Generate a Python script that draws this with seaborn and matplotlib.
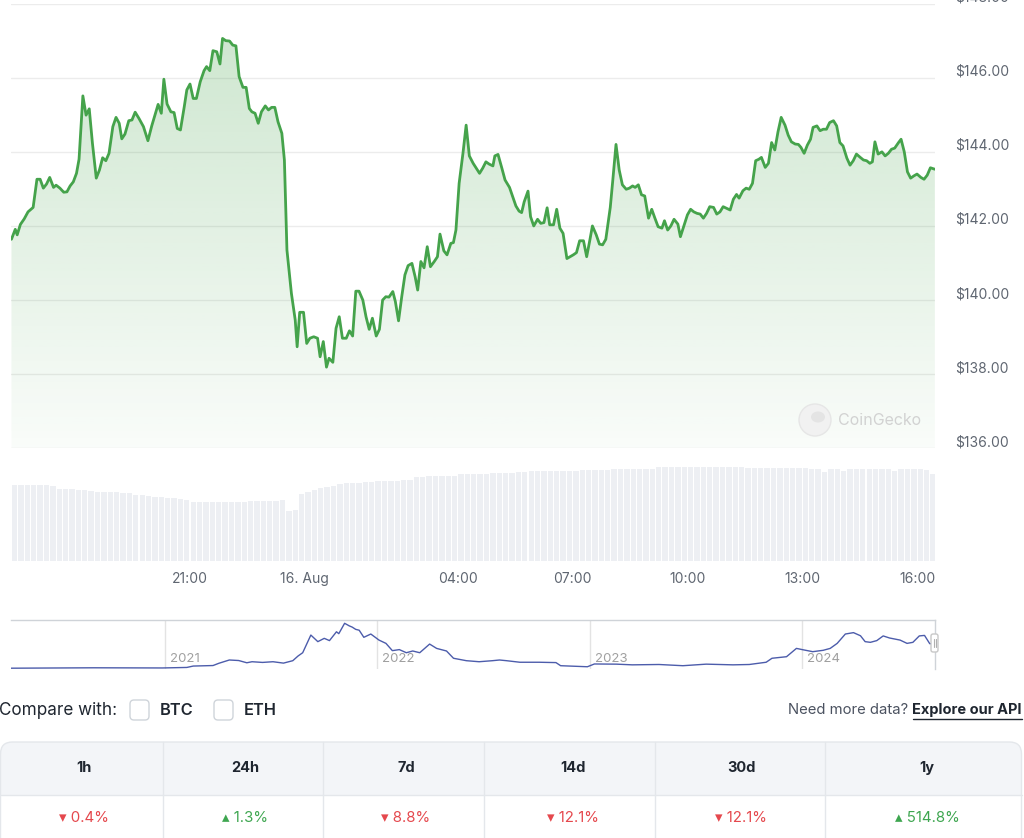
import numpy as np
import pandas as pd
import matplotlib
matplotlib.use("Agg")
import matplotlib.pyplot as plt
import matplotlib.dates as mdates
import matplotlib.transforms as mtransforms
import matplotlib.colors as mcolors
from matplotlib.patches import FancyBboxPatch, Rectangle, Circle, Ellipse
from matplotlib.lines import Line2D
import seaborn as sns

# ---------------- data ----------------
# price (USD), minutes after 2024-08-15 16:00
price_minutes = [20,26,29,34,40,46,54,60,65,70,75,80,86,90,96,102,107,112,117,122,126,132,137,142,147,153,158,163,168,173,179,184,189,193,198,204,209,214,220,227,234,240,245,250,255,259,264,270,275,280,285,291,295,300,305,310,316,322,326,331,336,342,347,351,356,362,367,372,377,383,388,393,
                 397,402,407,412,418,423,428,433,438,444,448,452,459,465,468,472,478,483,488,494,500,504,509,514,518,524,529,534,539,545,550,555,560,565,571,576,581,586,592,597,602,607,612,618,622,627,632,637,642,648,653,657,662,667,672,677,683,688,692,698,703,709,713,717,722,728,733,738,744,750,754,759,764,769,
                 775,778,783,789,794,801,806,811,816,820,824,830,834,839,845,850,855,860,864,870,875,880,885,891,896,901,906,911,917,922,927,931,937,942,947,952,959,963,968,973,978,984,989,994,998,1003,1008,1013,1019,1024,1029,1034,1040,1044,1049,1054,1059,1065,1069,1075,1080,1085,1090,1095,
                 1100,1105,1110,1115,1121,1126,1131,1136,1141,1147,1152,1157,1161,1167,1172,1177,1182,1187,1192,1196,1202,1207,1212,1217,1222,1227,1233,1238,1243,1249,1254,1258,1263,1268,1273,1277,1283,1288,1293,1298,1303,1309,1314,1319,1324,1330,1335,1340,1345,1351,1356,1361,1366,1370,1374,1379,1385,1390,1395,1400,1405,1411,1415,1420,1425,1430,1435,1440,1446,1451,1456,1461,1468]
price_usd = [141.64,141.91,141.76,142.04,142.19,142.38,142.50,143.26,143.26,143.02,143.13,143.31,143.04,143.10,143.02,142.91,142.92,143.08,143.19,143.42,143.80,145.51,144.99,145.16,144.23,143.29,143.51,143.84,143.76,143.96,144.68,144.93,144.77,144.35,144.48,144.84,144.86,145.07,144.90,144.68,144.30,144.70,144.99,145.28,145.04,145.96,145.29,145.08,145.06,144.63,144.59,145.22,145.67,145.83,145.44,145.44,145.89,146.19,146.30,146.19,146.73,146.70,146.37,147.06,147.00,146.99,146.88,146.86,146.03,145.74,145.74,145.17,
             145.08,145.04,144.77,145.08,145.24,145.13,145.20,145.20,144.81,144.50,143.78,141.35,140.18,139.46,138.74,139.67,139.67,138.83,138.97,139.01,138.97,138.47,138.88,138.19,138.43,138.32,139.24,139.55,138.97,138.97,139.17,139.03,140.24,140.24,140.00,139.55,139.21,139.51,139.03,139.21,140.00,140.09,140.08,140.23,139.96,139.44,140.09,140.68,140.93,140.99,140.63,140.27,141.04,140.87,141.44,140.90,141.04,141.17,141.78,141.33,141.22,141.53,141.55,141.89,143.15,143.96,144.72,143.89,143.69,143.53,143.42,143.56,143.73,143.67,
             143.62,143.89,143.93,143.56,143.24,143.04,142.79,142.54,142.40,142.36,142.65,142.94,142.25,142.00,142.18,142.07,142.09,142.49,142.03,142.03,142.45,141.94,141.80,141.12,141.17,141.22,141.28,141.60,141.60,141.17,141.62,142.00,141.76,141.51,141.49,141.64,142.50,143.24,144.20,143.51,143.11,142.99,143.02,143.08,143.04,143.11,142.84,142.81,142.21,142.45,142.21,141.98,141.94,142.14,141.89,142.00,142.18,142.05,141.71,142.03,142.30,142.45,142.38,142.34,
             142.32,142.21,142.34,142.52,142.50,142.32,142.38,142.52,142.48,142.43,142.72,142.85,142.75,142.95,143.02,142.99,143.15,143.76,143.80,143.85,143.58,143.69,144.25,144.05,144.54,144.93,144.72,144.45,144.27,144.21,144.20,144.12,143.96,144.18,144.34,144.66,144.70,144.57,144.61,144.61,144.79,144.84,144.70,144.25,144.16,143.83,143.64,143.76,143.94,143.85,143.78,143.76,143.69,143.73,144.27,143.94,144.00,143.89,143.96,144.07,144.10,144.25,144.34,144.00,143.46,143.29,143.35,143.40,143.31,143.26,143.37,143.57,143.53]

# volume (billion USD), one bar per 10 minutes from 16:25 on 15 Aug
volume_b = [2.55,2.55,2.56,2.54,2.55,2.53,2.52,
            2.42,2.41,2.40,2.39,2.38,
            2.33,2.32,2.31,2.30,2.30,2.29,2.28,
            2.22,2.20,2.18,2.16,2.14,2.12,2.10,2.07,2.05,
            1.98,1.98,1.97,1.98,1.98,1.99,1.98,1.98,1.99,2.00,2.00,2.01,2.02,2.02,2.03,
            1.66,1.70,
            2.26,2.30,2.38,2.44,2.48,2.52,
            2.58,2.60,2.61,2.62,2.63,
            2.66,2.67,2.68,2.68,2.69,2.70,2.71,
            2.80,2.82,2.83,2.84,2.85,2.85,2.86,
            2.90,2.91,2.92,2.92,2.93,2.94,2.94,2.95,2.95,
            2.98,2.99,3.00,3.00,3.01,3.01,3.02,3.02,3.03,3.03,3.04,3.04,
            3.05,3.06,3.06,3.07,3.07,3.08,3.08,3.08,3.09,3.09,
            3.15,3.15,3.16,3.16,3.16,3.16,3.16,3.16,3.16,3.15,3.15,3.15,3.14,3.14,3.13,
            3.11,3.11,3.10,3.11,3.10,3.10,3.11,3.10,3.10,3.09,
            3.08,2.98,3.08,3.07,3.02,3.07,3.08,3.08,3.07,3.08,3.08,3.07,3.02,3.08,3.08,3.07,3.08,3.06,2.93]

price_ticks = [136, 138, 140, 142, 144, 146, 148]
time_tick_labels = ["21:00", "16. Aug", "04:00", "07:00", "10:00", "13:00", "16:00"]
time_tick_stamps = ["2024-08-15 21:00", "2024-08-16 00:00", "2024-08-16 04:00", "2024-08-16 07:00",
                    "2024-08-16 10:00", "2024-08-16 13:00", "2024-08-16 16:00"]

# navigator: long-run price history
nav_dates = ["2020-04-12","2020-09-01","2020-12-28","2021-02-08","2021-02-19","2021-03-25","2021-04-04","2021-04-22","2021-05-08","2021-05-22","2021-05-31","2021-06-18","2021-07-06","2021-07-24","2021-08-09","2021-08-18","2021-08-26","2021-09-09","2021-09-21","2021-10-02","2021-10-11","2021-10-23","2021-10-27","2021-11-06","2021-11-14","2021-11-19","2021-11-25","2021-12-01","2021-12-09","2021-12-21",
             "2022-01-04","2022-01-16","2022-01-27","2022-02-08","2022-02-20","2022-03-03","2022-03-15","2022-04-01","2022-04-13","2022-04-30","2022-05-12","2022-06-03","2022-06-25","2022-07-18","2022-07-30","2022-08-11","2022-09-03","2022-10-06","2022-11-04","2022-11-12","2022-12-28",
             "2023-01-09","2023-02-16","2023-03-15","2023-04-30","2023-06-10","2023-07-20","2023-09-04","2023-10-02","2023-10-31","2023-11-10","2023-12-05","2023-12-22",
             "2024-01-01","2024-01-19","2024-02-06","2024-02-18","2024-03-01","2024-03-15","2024-03-29","2024-04-10","2024-04-18","2024-04-27","2024-05-08","2024-05-19","2024-05-30","2024-06-17","2024-06-29","2024-07-09","2024-07-20","2024-07-29","2024-08-07","2024-08-16"]
nav_prices = [0.6,3,2,5,13,16,29,48,45,32,38,34,38,30,44,71,90,192,154,173,160,211,200,260,245,238,225,220,179,198,
              163,144,102,108,90,100,90,140,115,100,58,44,38,44,48,44,35,35,33,15,9,
              25,24,20,22,15,24,20,22,35,58,67,115,
              108,96,104,115,144,198,206,188,154,150,160,187,175,163,144,150,187,190,142,143]
nav_years = [2021, 2022, 2023, 2024]

periods = ["1h", "24h", "7d", "14d", "30d", "1y"]
changes = [-0.4, 1.3, -8.8, -12.1, -12.1, 514.8]
compare_coins = ["BTC", "ETH"]

# ---------------- style ----------------
sns.set_theme(style="white")
plt.rcParams["font.family"] = ["Inter", "DejaVu Sans"]

LINE = "#45a34b"
GRID = "#ececec"
LABEL = "#5f6671"
DARK = "#1f2630"
RED = "#e5484d"
GREEN = "#3ea650"

W, H = 1024, 838
fig = plt.figure(figsize=(W / 100, H / 100), dpi=100)
fig.patch.set_facecolor("white")
PX = mtransforms.Affine2D().scale(1 / W, -1 / H).translate(0, 1) + fig.transFigure


def px_axes(x0, y0, x1, y1):
    a = fig.add_axes([x0 / W, 1 - y1 / H, (x1 - x0) / W, (y1 - y0) / H])
    a.set_facecolor("none")
    for s in a.spines.values():
        s.set_visible(False)
    return a


t0 = pd.Timestamp("2024-08-15 16:00")
df = pd.DataFrame({"time": t0 + pd.to_timedelta(price_minutes, unit="min"), "price": price_usd})
xmin = t0 + pd.Timedelta(minutes=19.3)
xmax = t0 + pd.Timedelta(minutes=1468.2)

# ---------------- main price chart ----------------
ax = px_axes(11, 3.6, 935, 448.3)
for v in price_ticks:
    ax.axhline(v, color=GRID, lw=1.0, zorder=0)
poly = ax.fill_between(df["time"], df["price"], 136, color="none", lw=0)
xn = mdates.date2num([xmin, xmax])
grad = np.zeros((256, 1, 4))
grad[..., :3] = mcolors.to_rgb(LINE)
grad[..., 3] = np.linspace(0.28, 0.03, 256)[:, None]
im = ax.imshow(grad, extent=[xn[0], xn[1], 136, 148], aspect="auto", origin="upper", zorder=1,
               interpolation="bilinear")
im.set_clip_path(poly.get_paths()[0], transform=ax.transData)
sns.lineplot(data=df, x="time", y="price", ax=ax, color=LINE, lw=2.0, zorder=3)
ax.set_xlim(xmin, xmax)
ax.set_ylim(136, 148)
ax.set_xticks([]); ax.set_yticks([])
ax.set_xlabel(""); ax.set_ylabel("")

ylab_tr = mtransforms.blended_transform_factory(fig.transFigure, ax.transData) + \
    mtransforms.ScaledTranslation(0, 6 / 100, fig.dpi_scale_trans)
for v in price_ticks:
    ax.text(955 / W, v, f"${v:.2f}", transform=ylab_tr, ha="left", va="center",
            fontsize=10, color=LABEL, clip_on=False)

# watermark
fig.add_artist(Circle((815, 420), 16, transform=PX, facecolor="#f1f1f1", edgecolor="#e6e6e6", lw=1))
fig.add_artist(Ellipse((818, 417), 14, 11, transform=PX, facecolor="#e4e4e4", edgecolor="none"))
fig.text(838, 420, "CoinGecko", transform=PX, ha="left", va="center", fontsize=11.5, color="#d2d2d2")

# ---------------- volume ----------------
axv = px_axes(11, 455, 935, 561)
vol_time = pd.date_range("2024-08-15 16:25", periods=len(volume_b), freq="10min")
axv.bar(vol_time, volume_b, width=8.4 / 1440, color="#edeff3", linewidth=0)
axv.set_xlim(xmin, xmax)
axv.set_ylim(0, 3.55)
axv.set_yticks([])
axv.set_xticks(pd.to_datetime(time_tick_stamps))
axv.set_xticklabels(time_tick_labels)
axv.tick_params(axis="x", length=0, pad=8, labelsize=10, labelcolor=LABEL)

# ---------------- navigator ----------------
axn = px_axes(11, 620, 935, 669)
ndf = pd.DataFrame({"date": pd.to_datetime(nav_dates), "price": nav_prices})
for yr in nav_years:
    axn.axvline(pd.Timestamp(f"{yr}-01-01"), color="#e3e3e3", lw=1, zorder=0)
sns.lineplot(data=ndf, x="date", y="price", ax=axn, color="#4c5cab", lw=1.0)
axn.set_xlim(pd.Timestamp("2020-04-12"), pd.Timestamp("2024-08-16"))
axn.set_ylim(-4, 279)
axn.set_xticks([]); axn.set_yticks([])
axn.set_xlabel(""); axn.set_ylabel("")
axn.spines["top"].set_visible(True); axn.spines["top"].set_color("#cfd3d8"); axn.spines["top"].set_linewidth(1)
axn.spines["right"].set_visible(True); axn.spines["right"].set_color("#cfd3d8"); axn.spines["right"].set_linewidth(1)
yl_tr = mtransforms.blended_transform_factory(axn.transData, axn.transAxes) + \
    mtransforms.ScaledTranslation(5 / 100, 0, fig.dpi_scale_trans)
for yr in nav_years:
    axn.text(pd.Timestamp(f"{yr}-01-01"), 0.2, str(yr), transform=yl_tr, ha="left", va="center",
             fontsize=9.5, color="#a0a0a0", clip_on=False)
# handle
fig.add_artist(FancyBboxPatch((931, 634), 7, 18, boxstyle="round,pad=0,rounding_size=2", transform=PX,
                              facecolor="white", edgecolor="#c8c8c8", lw=1))
for xx in (933.5, 935.5):
    fig.add_artist(Line2D([xx, xx], [639, 647], transform=PX, color="#b0b0b0", lw=0.8))

# ---------------- compare row ----------------
fig.text(-1, 710, "Compare with:", transform=PX, ha="left", va="center", fontsize=12.3, color=DARK)
for bx, name in zip([130, 214], compare_coins):
    fig.add_artist(FancyBboxPatch((bx, 700), 19, 20, boxstyle="round,pad=0,rounding_size=4", transform=PX,
                                  facecolor="white", edgecolor="#cfd4da", lw=1))
    fig.text(bx + 30, 710, name, transform=PX, ha="left", va="center", fontsize=11.8,
             color=DARK, fontweight="semibold")
fig.text(908, 710, "Need more data?", transform=PX, ha="right", va="center", fontsize=10.7, color="#4b5260")
api = fig.text(1022, 710, "Explore our API", transform=PX, ha="right", va="center", fontsize=10.5,
               color=DARK, fontweight="bold")
fig.canvas.draw()
bb = api.get_window_extent(fig.canvas.get_renderer())
fig.add_artist(Line2D([bb.x0, bb.x1], [718.5, 718.5], transform=PX, color=DARK, lw=1))

# ---------------- table ----------------
fig.add_artist(FancyBboxPatch((0.5, 742), 1021, 130, boxstyle="round,pad=0,rounding_size=12", transform=PX,
                              facecolor="#f3f5f8", edgecolor="none"))
fig.add_artist(Rectangle((0.5, 795), 1021, 60, transform=PX, facecolor="white", edgecolor="none"))
fig.add_artist(FancyBboxPatch((0.5, 742), 1021, 130, boxstyle="round,pad=0,rounding_size=12", transform=PX,
                              facecolor="none", edgecolor="#e4e7eb", lw=1))
fig.add_artist(Line2D([0.5, 1021.5], [795, 795], transform=PX, color="#e4e7eb", lw=1))
for sx in [163, 323, 484, 655, 825]:
    fig.add_artist(Line2D([sx, sx], [742, 838], transform=PX, color="#e4e7eb", lw=1))
col_centers = [84, 245, 406, 573, 741, 927]
for cx, p, c in zip(col_centers, periods, changes):
    fig.text(cx, 768, p, transform=PX, ha="center", va="center", fontsize=10.5, color=DARK, fontweight="bold")
    arrow = "\u25be" if c < 0 else "\u25b4"
    fig.text(cx, 818, f"{arrow} {abs(c):.1f}%", transform=PX, ha="center", va="center", fontsize=10.8,
             color=RED if c < 0 else GREEN)

fig.savefig("out.png", dpi=100, facecolor="white")
